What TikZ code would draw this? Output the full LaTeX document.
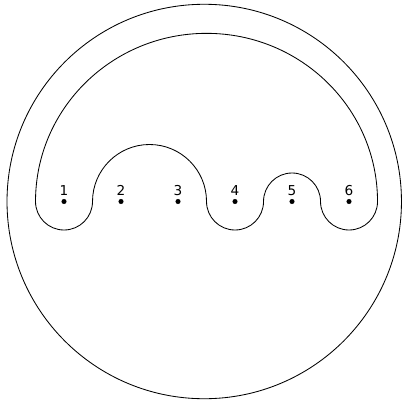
\documentclass[tikz,border=0pt]{standalone}
\usepackage{fontspec}
\setsansfont{DejaVu Sans}

\begin{document}
\begin{tikzpicture}[x=1.425cm, y=1.425cm, line width=0.6pt,
  pt/.style={circle, fill, inner sep=0pt, minimum size=3.6pt},
  lbl/.style={anchor=base, inner sep=0pt, font=\sffamily\fontsize{9.7}{11}\selectfont}]
  \useasboundingbox (-0.123,-3.5) rectangle (6.947,3.535);

  % Outer circle
  \draw (3.46,0) circle (3.46);

  % Inner curve
  \draw (0.5,0) arc (180:360:0.5) arc (180:0:1)
    arc (180:360:0.5) arc (180:0:0.5) arc (180:360:0.5)
    arc (0:180:3 and 2.95) -- cycle;

  % Points
  \foreach \i in {1,...,6} {
    \node[pt] (p\i) at (\i,0) {};
    \node[lbl] (l\i) at (\i,0.114) {\i};
  }
\end{tikzpicture}
\end{document}
